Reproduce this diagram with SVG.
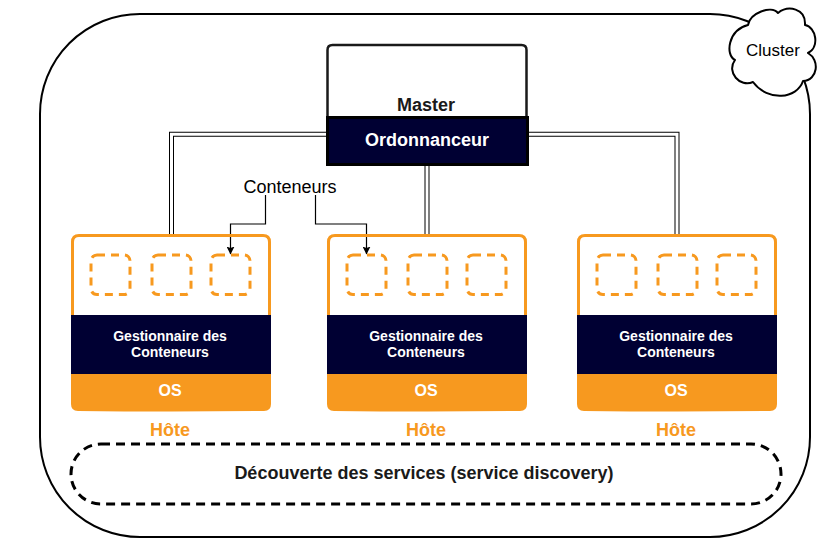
<svg xmlns="http://www.w3.org/2000/svg" xmlns:xlink="http://www.w3.org/1999/xlink" width="825" height="539" viewBox="0 0 825 539">
<style>
text{font-family:"Liberation Sans",Arial,sans-serif;text-anchor:middle}
.b{font-weight:bold}
.w{fill:#fff}
.frame{fill:none;stroke:#f7991f;stroke-width:3}
.slot{fill:none;stroke:#f7991f;stroke-width:3;stroke-dasharray:8 6}
.dark{fill:#000033}
.os{fill:#f7991f}
.h{fill:#f7991f;font-size:18px;font-weight:bold}
.t12{font-size:14px;font-weight:bold;fill:#fff}
.outer{fill:none;stroke:#000;stroke-width:5}
.inner{fill:none;stroke:#fff;stroke-width:3}
.thin{fill:none;stroke:#000;stroke-width:1.2;marker-end:url(#ah)}
</style>
<defs>
<marker id="ah" markerUnits="userSpaceOnUse" markerWidth="8" markerHeight="8" refX="7.500" refY="4" orient="auto" viewBox="0 0 8 8"><path d="M0 0L8 4L0 8L1.500 4Z" fill="#000"/></marker>
<g id="host">
<rect class="dark" x="0" y="81" width="200" height="59"/>
<path class="os" d="M0 140H200V170Q200 177 193 177Q100 178 7 177Q0 177 0 170Z"/>
<path class="frame" d="M1.500 81V8Q1.500 1.500 8 1.500H192Q198.500 1.500 198.500 8V81"/>
<text class="t12" x="99" y="107">Gestionnaire des</text>
<text class="t12" x="99" y="123">Conteneurs</text>
<text x="99" y="162" class="b w" font-size="16">OS</text>
<text class="h" x="99" y="202">Hôte</text>
</g>
<rect id="slot" class="slot" width="39" height="39.500" rx="6"/>
</defs>

<g id="cluster">
<rect x="40" y="14" width="770" height="523" rx="100" ry="100" fill="#fff" stroke="#000" stroke-width="2"/>
</g>
<g id="cluster-cloud">
<path d="M748 25C750 13 771 5 778 13C788 5 806 8 805 25C816 27 820 47 808 53C820 60 818 80 803 81C797 99 768 102 753 82C740 88 726 72 735 60C725 55 728 30 748 25Z" fill="#fff" stroke="#000" stroke-width="2" stroke-linejoin="round"/>
<text x="773" y="56" font-size="17" fill="#000">Cluster</text>
</g>

<g id="connectors">
<path class="outer" d="M327 134.300H171.500V234"/>
<path class="inner" d="M327 134.300H171.500V234"/>
<path class="outer" d="M527 134.300H677V234"/>
<path class="inner" d="M527 134.300H677V234"/>
<path class="outer" d="M427 165V234"/>
<path class="inner" d="M427 165V234"/>
<path class="thin" d="M265.500 195V224H230.500V254"/>
<path class="thin" d="M315.500 195V224H366.500V254"/>
</g>

<g id="master">
<path d="M327.500 117V50Q327.500 45 332.500 45H521.500Q526.500 45 526.500 50V117" fill="#fff" stroke="#1a1a1a" stroke-width="2.500"/>
<text x="426" y="111" class="b" font-size="18" fill="#1a1a1a">Master</text>
</g>
<g id="ordonnanceur">
<rect class="dark" x="327.500" y="117.500" width="200" height="47" stroke="#000" stroke-width="3"/>
<text x="427" y="146" class="b w" font-size="18">Ordonnanceur</text>
</g>

<text id="conteneurs-label" x="290" y="193" font-size="18" fill="#000">Conteneurs</text>

<g id="host-1">
<use xlink:href="#host" href="#host" x="71" y="234"/>
<use href="#slot" xlink:href="#slot" x="91" y="255"/>
<use href="#slot" xlink:href="#slot" x="152" y="255"/>
<use href="#slot" xlink:href="#slot" x="211" y="255"/>
</g>
<g id="host-2">
<use xlink:href="#host" href="#host" x="327" y="234"/>
<use href="#slot" xlink:href="#slot" x="347" y="255"/>
<use href="#slot" xlink:href="#slot" x="408" y="255"/>
<use href="#slot" xlink:href="#slot" x="467" y="255"/>
</g>
<g id="host-3">
<use xlink:href="#host" href="#host" x="577" y="234"/>
<use href="#slot" xlink:href="#slot" x="597" y="255"/>
<use href="#slot" xlink:href="#slot" x="658" y="255"/>
<use href="#slot" xlink:href="#slot" x="717" y="255"/>
</g>

<g id="service-discovery">
<rect x="71" y="444" width="710" height="60" rx="30" ry="30" fill="none" stroke="#000" stroke-width="3" stroke-dasharray="9 6"/>
<text x="424" y="479" class="b" font-size="18" fill="#1a1a1a">Découverte des services (service discovery)</text>
</g>
</svg>
